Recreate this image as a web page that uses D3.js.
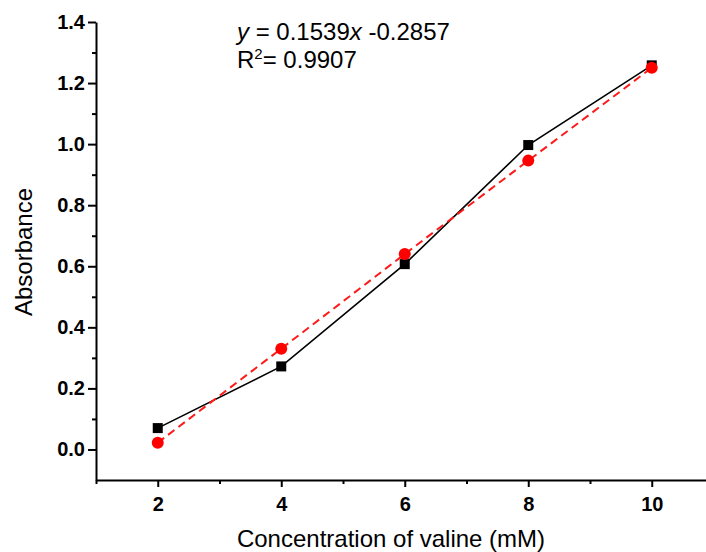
<!DOCTYPE html>
<html>
<head>
<meta charset="utf-8">
<script src="https://cdn.jsdelivr.net/npm/d3@7"></script>
<style>
  body { margin: 0; background: white; }
  text { font-family: Arial, "Liberation Sans", sans-serif; }
</style>
</head>
<body>
<div id="chart"></div>
<script>
// data
const concentration = [2, 4, 6, 8, 10];
const measured = [0.070, 0.272, 0.607, 0.997, 1.258];
const fitted = [0.022, 0.330, 0.640, 0.946, 1.250];
const xMajor = [2, 4, 6, 8, 10];
const xMinor = [1, 3, 5, 7, 9];
const yMajor = [0.0, 0.2, 0.4, 0.6, 0.8, 1.0, 1.2, 1.4];
const yMinor = [0.1, 0.3, 0.5, 0.7, 0.9, 1.1, 1.3];

const width = 706;
const height = 552;

const svg = d3.select("#chart")
    .append("svg")
    .attr("width", width)
    .attr("height", height)
    .attr("viewBox", [0, 0, width, height]);

//Scales
const xScale = d3.scaleLinear()
    .domain([1, 11])
    .range([96, 713.5]);
const yScale = d3.scaleLinear()
    .domain([-0.1, 1.4])
    .range([480, 22]);

//X Axis
const xAxis = d3.axisBottom(xScale)
    .tickValues(xMajor)
    .tickSize(7)
    .tickSizeOuter(0)
    .tickPadding(10)
    .tickFormat(d3.format("d"));
const gx = svg.append("g")
    .attr("transform", `translate(0, ${yScale(-0.1)})`)
    .call(xAxis);
gx.select(".domain").attr("stroke-width", 2);
gx.selectAll(".tick line").attr("stroke-width", 2);
gx.selectAll(".tick text")
    .style("font-size", "20px")
    .style("font-weight", "bold");
svg.append("g")
    .attr("transform", `translate(0, ${yScale(-0.1)})`)
    .call(d3.axisBottom(xScale).tickValues(xMinor).tickSize(4).tickFormat(""))
    .call(g => g.select(".domain").remove())
    .selectAll(".tick line").attr("stroke-width", 2);

//Y Axis
const yAxis = d3.axisLeft(yScale)
    .tickValues(yMajor)
    .tickSize(8)
    .tickSizeOuter(0)
    .tickPadding(3)
    .tickFormat(d3.format(".1f"));
const gy = svg.append("g")
    .attr("transform", `translate(${xScale(1)}, 0)`)
    .call(yAxis);
gy.select(".domain").attr("stroke-width", 2);
gy.selectAll(".tick line").attr("stroke-width", 2);
gy.selectAll(".tick text")
    .style("font-size", "20px")
    .style("font-weight", "bold");
svg.append("g")
    .attr("transform", `translate(${xScale(1)}, 0)`)
    .call(d3.axisLeft(yScale).tickValues(yMinor).tickSize(4).tickFormat(""))
    .call(g => g.select(".domain").remove())
    .selectAll(".tick line").attr("stroke-width", 2);

//Axis titles
svg.append("text")
    .attr("x", 391)
    .attr("y", 547)
    .attr("text-anchor", "middle")
    .attr("font-size", "24px")
    .text("Concentration of valine (mM)");
svg.append("text")
    .attr("transform", `translate(32, 252) rotate(-90)`)
    .attr("text-anchor", "middle")
    .attr("font-size", "24px")
    .text("Absorbance");

//Lines
const line = d3.line()
    .x(d => xScale(d[0]))
    .y(d => yScale(d[1]));

const measuredPts = concentration.map((c, i) => [c, measured[i]]);
const fittedPts = concentration.map((c, i) => [c, fitted[i]]);

svg.append("path")
    .datum(measuredPts)
    .attr("d", line)
    .attr("fill", "none")
    .attr("stroke", "black")
    .attr("stroke-width", 1.6);

svg.append("path")
    .datum(fittedPts)
    .attr("d", line)
    .attr("fill", "none")
    .attr("stroke", "#ff1a1a")
    .attr("stroke-width", 2)
    .attr("stroke-dasharray", "8,5");

//Markers
const sq = 10;
svg.selectAll("rect.measured")
    .data(measuredPts)
    .enter()
    .append("rect")
    .attr("class", "measured")
    .attr("x", d => xScale(d[0]) - sq / 2)
    .attr("y", d => yScale(d[1]) - sq / 2)
    .attr("width", sq)
    .attr("height", sq)
    .attr("fill", "black");

svg.selectAll("circle.fitted")
    .data(fittedPts)
    .enter()
    .append("circle")
    .attr("class", "fitted")
    .attr("cx", d => xScale(d[0]))
    .attr("cy", d => yScale(d[1]))
    .attr("r", 6)
    .attr("fill", "#ff0000");

//Equation
const eq = svg.append("text")
    .attr("x", 237)
    .attr("y", 40)
    .attr("font-size", "24px");
eq.append("tspan").attr("font-style", "italic").text("y");
eq.append("tspan").text(" = 0.1539");
eq.append("tspan").attr("font-style", "italic").text("x");
eq.append("tspan").text(" -0.2857");

const r2 = svg.append("text")
    .attr("x", 237)
    .attr("y", 68)
    .attr("font-size", "24px");
r2.append("tspan").text("R");
r2.append("tspan").attr("font-size", "15px").attr("dy", -9).text("2");
r2.append("tspan").attr("dy", 9).text("= 0.9907");
</script>
</body>
</html>
